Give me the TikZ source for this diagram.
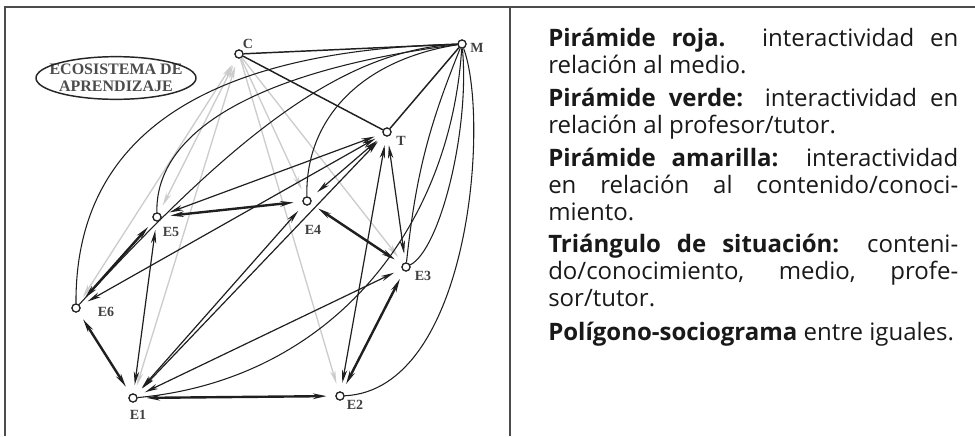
\documentclass[tikz,border=0pt]{standalone}
\usepackage{fontspec}
\setmainfont{Open Sans}
\newfontfamily\lblfont{Liberation Serif}
\usetikzlibrary{arrows.meta}
\begin{document}
\begin{tikzpicture}[x=0.75pt,y=-0.75pt,
  vtx/.style={circle,draw=black!85,fill=white,line width=0.9pt,inner sep=0pt,minimum size=6pt},
  lbl/.style={font=\lblfont\bfseries\fontsize{10.5}{10.5}\selectfont,text=black!75,inner sep=0pt},
  ln/.style={draw=black!88,line width=0.9pt},
  tip/.tip={Stealth[length=10pt,width=4pt,inset=3pt]},
  gtip/.tip={Stealth[length=10pt,width=4pt,inset=3pt]},
  bi/.style={ln,{tip}-{tip},shorten <=6.5pt,shorten >=6.5pt},
  thk/.style={bi,line width=1.8pt},
  yel/.style={draw=black!20,line width=1pt,-{gtip},shorten >=6pt},
  yelb/.style={yel,{gtip}-{gtip},shorten <=6pt},
  crv/.style={ln,line width=0.8pt},
  txt/.style={anchor=base west,inner sep=0pt,font=\fontsize{18}{20}\selectfont,text=black!90},
  frame/.style={draw=black!70,line width=1.1pt}]
\useasboundingbox (0,0) rectangle (975,436);
% frame
\coordinate (f1) at (5,7);
\coordinate (f2) at (975,7);
\coordinate (f3) at (5,436);
\coordinate (d1) at (510,7);
\coordinate (d2) at (510,436);
\draw[frame] (f3) -- (f1) -- (f2);
\draw[frame] (d1) -- (d2);
% vertices
\node[vtx] (C) at (239,54) {};
\node[vtx] (M) at (462,44) {};
\node[vtx] (T) at (387,132) {};
\node[vtx] (E4) at (307,201) {};
\node[vtx] (E5) at (157,217) {};
\node[vtx] (E6) at (76,308) {};
\node[vtx] (E3) at (406,267) {};
\node[vtx] (E1) at (133,398) {};
\node[vtx] (E2) at (340,396) {};
% gray lines from C
\draw[yelb] (C) -- (E6);
\draw[yelb] (C) -- (E5);
\draw[yelb] (C) -- (E1);
\draw[yel] (C) -- (E4);
\draw[yel] (C) -- (E2);
\draw[yel] (C) -- (E3);
% curves from M
\draw[crv] (M) .. controls (230,50) and (75,120) .. (E6);
\draw[crv] (M) .. controls (260,70) and (155,130) .. (E5);
\draw[crv] (M) .. controls (340,50) and (230,140) .. (E6);
\draw[crv] (M) .. controls (360,60) and (305,120) .. (E4);
\draw[crv] (M) .. controls (450,230) and (330,380) .. (E1);
\draw[crv] (M) .. controls (490,120) and (470,390) .. (E2);
\draw[crv] (M) .. controls (470,130) and (440,250) .. (E3);
\draw[crv] (M) to[bend right=8] (E3);
% triangle
\draw[ln,line width=1.1pt] (C) -- (M);
\draw[ln,line width=1.1pt] (C) -- (T);
\draw[ln,line width=1.1pt] (M) -- (T);
% diagonals
\draw[bi] (E1) -- (E5);
\draw[bi] (E1) -- (E4);
\draw[bi] (E1) -- (T);
\draw[bi] (E1) -- (E3);
\draw[bi] (E6) -- (T);
\draw[bi] (E5) -- (T);
\draw[bi] (E4) -- (T);
\draw[bi] (E2) -- (T);
\draw[bi] (E3) -- (T);
% polygon
\draw[thk] (E1) -- (E2);
\draw[thk] (E2) -- (E3);
\draw[thk] (E3) -- (E4);
\draw[thk] (E4) -- (E5);
\draw[thk] (E5) -- (E6);
\draw[thk] (E6) -- (E1);
% redraw vertices on top
\foreach \v in {C,M,T,E1,E2,E3,E4,E5,E6}{\node[vtx] at (\v) {};}
% labels
\node[lbl] (lC) at (248,44) {C};
\node[lbl] (lM) at (477,48) {M};
\node[lbl] (lT) at (401,141) {T};
\node[lbl] (lE4) at (313,230) {E4};
\node[lbl] (lE5) at (171,232) {E5};
\node[lbl] (lE6) at (106,312) {E6};
\node[lbl] (lE3) at (423,276) {E3};
\node[lbl] (lE1) at (138,415) {E1};
\node[lbl] (lE2) at (355,405) {E2};
% ecosystem ellipse
\node[inner sep=0pt,align=center,font=\lblfont\bfseries\fontsize{12}{13}\selectfont,text=black!70] (eco) at (116,78)
      {ECOSISTEMA DE\\APRENDIZAJE};
\draw[draw=black!85,line width=1.1pt] (eco.center) ellipse [x radius=60pt, y radius=16pt];
% text panel
\def\jw{307.5pt}
\node[txt] (t1) at (548,46) {\hbox to \jw{\textbf{Pirámide roja.} interactividad en}};
\node[txt] (t2) at (548,73) {relación al medio.};
\node[txt] (t3) at (548,106) {\hbox to \jw{\textbf{Pirámide verde:} interactividad en}};
\node[txt] (t4) at (548,133) {relación al profesor/tutor.};
\node[txt] (t5) at (548,166) {\hbox to \jw{\textbf{Pirámide amarilla:} interactividad}};
\node[txt] (t6) at (548,193) {\hbox to \jw{en relación al contenido/conoci-}};
\node[txt] (t7) at (548,220) {miento.};
\node[txt] (t8) at (548,252) {\hbox to \jw{\textbf{Triángulo de situación:} conteni-}};
\node[txt] (t9) at (548,279) {\hbox to \jw{do/conocimiento, medio, profe-}};
\node[txt] (t10) at (548,306) {sor/tutor.};
\node[txt] (t11) at (548,340) {\textbf{Polígono-sociograma} entre iguales.};
\end{tikzpicture}
\end{document}
